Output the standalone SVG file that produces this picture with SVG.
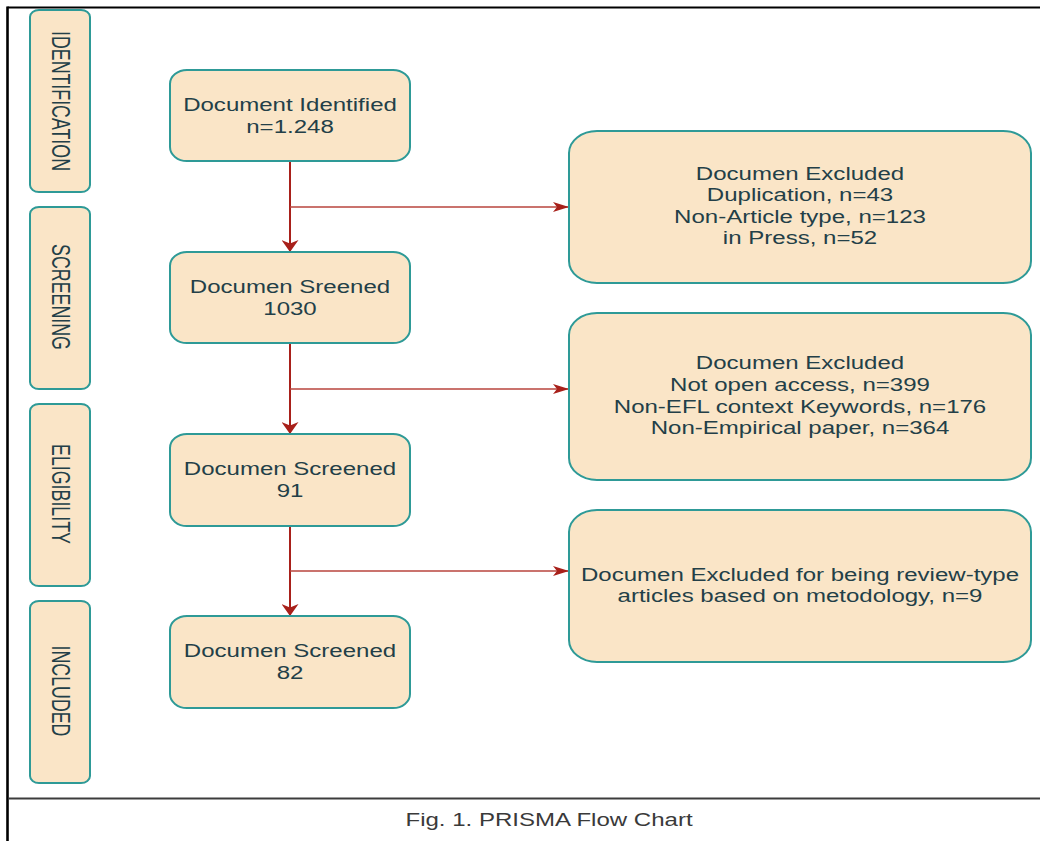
<svg xmlns="http://www.w3.org/2000/svg" width="1040" height="841" viewBox="0 0 1040 841">
<defs>
<style>
.box{fill:#FAE5C7;stroke:#2E9A97;stroke-width:2}
.t{font-family:"Liberation Sans",Arial,sans-serif;font-size:18.5px;fill:#233F48;text-anchor:middle}
.lbl{font-family:"Liberation Sans",Arial,sans-serif;font-size:17.8px;fill:#233F48;text-anchor:middle}
.v{fill:none;stroke:#A8201A;stroke-width:2}
.h{fill:none;stroke:#B9443D;stroke-width:1.6}
.cap{font-family:"Liberation Sans",Arial,sans-serif;font-size:18.5px;fill:#3A3A3A;text-anchor:middle}
</style>
<marker id="arrDown" markerUnits="userSpaceOnUse" viewBox="0 0 12 17" refX="12" refY="8.5" markerWidth="12" markerHeight="17" orient="auto">
<path d="M0,0 L12,8.5 L0,17 L3.5,8.5 Z" fill="#A8201A"/>
</marker>
<marker id="arrRight" markerUnits="userSpaceOnUse" viewBox="0 0 16 10" refX="16" refY="5" markerWidth="16" markerHeight="10" orient="auto">
<path d="M0,0 L16,5 L0,10 L4,5 Z" fill="#A8201A"/>
</marker>
</defs>
<rect x="0" y="0" width="1040" height="841" fill="#FFFFFF"/>
<g id="frame">
<line x1="7.5" y1="7.5" x2="1040" y2="7.5" stroke="#000" stroke-width="2.2"/>
<line x1="7.5" y1="6.5" x2="7.5" y2="841" stroke="#000" stroke-width="2.6"/>
<line x1="9" y1="798.5" x2="1040" y2="798.5" stroke="#3C3C3C" stroke-width="2"/>
</g>

<g id="connectors">
<path class="v" d="M290,161 V252" marker-end="url(#arrDown)"/>
<path class="h" d="M290,207 H569" marker-end="url(#arrRight)"/>
<path class="v" d="M290,343 V434" marker-end="url(#arrDown)"/>
<path class="h" d="M290,389 H569" marker-end="url(#arrRight)"/>
<path class="v" d="M290,526 V616" marker-end="url(#arrDown)"/>
<path class="h" d="M290,571 H569" marker-end="url(#arrRight)"/>
</g>

<g id="stage-identification">
<rect class="box" x="30" y="10" width="60" height="182" rx="9" ry="7"/>
<text class="lbl" transform="translate(61,101) scale(1.4,1) rotate(90)" x="0" y="6.4">IDENTIFICATION</text>
</g>
<g id="stage-screening">
<rect class="box" x="30" y="207" width="60" height="182" rx="9" ry="7"/>
<text class="lbl" transform="translate(61,297) scale(1.4,1) rotate(90)" x="0" y="6.4">SCREENING</text>
</g>
<g id="stage-eligibility">
<rect class="box" x="30" y="404" width="60" height="182" rx="9" ry="7"/>
<text class="lbl" transform="translate(61,494) scale(1.4,1) rotate(90)" x="0" y="6.4">ELIGIBILITY</text>
</g>
<g id="stage-included">
<rect class="box" x="30" y="601" width="60" height="182" rx="9" ry="7"/>
<text class="lbl" transform="translate(61,691) scale(1.4,1) rotate(90)" x="0" y="6.4">INCLUDED</text>
</g>

<g id="node-identified">
<rect class="box" x="170" y="70" width="240" height="91" rx="17" ry="14"/>
<text class="t" transform="translate(290,0) scale(1.3,1)"><tspan x="0" y="110.7">Document Identified</tspan><tspan x="0" y="132.7">n=1.248</tspan></text>
</g>
<g id="node-screened-1030">
<rect class="box" x="170" y="252" width="240" height="91" rx="17" ry="14"/>
<text class="t" transform="translate(290,0) scale(1.3,1)"><tspan x="0" y="292.7">Documen Sreened</tspan><tspan x="0" y="315">1030</tspan></text>
</g>
<g id="node-screened-91">
<rect class="box" x="170" y="434" width="240" height="92" rx="17" ry="14"/>
<text class="t" transform="translate(290,0) scale(1.3,1)"><tspan x="0" y="475">Documen Screened</tspan><tspan x="0" y="497.3">91</tspan></text>
</g>
<g id="node-screened-82">
<rect class="box" x="170" y="616" width="240" height="92" rx="17" ry="14"/>
<text class="t" transform="translate(290,0) scale(1.3,1)"><tspan x="0" y="656.7">Documen Screened</tspan><tspan x="0" y="679">82</tspan></text>
</g>

<g id="node-excluded-1">
<rect class="box" x="569" y="131" width="462" height="152" rx="28" ry="22"/>
<text class="t" transform="translate(800,0) scale(1.3,1)"><tspan x="0" y="180.3">Documen Excluded</tspan><tspan x="0" y="201.5">Duplication, n=43</tspan><tspan x="0" y="222.8">Non-Article type, n=123</tspan><tspan x="0" y="244">in Press, n=52</tspan></text>
</g>
<g id="node-excluded-2">
<rect class="box" x="569" y="313" width="462" height="167" rx="28" ry="22"/>
<text class="t" transform="translate(800,0) scale(1.3,1)"><tspan x="0" y="369.3">Documen Excluded</tspan><tspan x="0" y="390.8">Not open access, n=399</tspan><tspan x="0" y="413">Non-EFL context Keywords, n=176</tspan><tspan x="0" y="434.3">Non-Empirical paper, n=364</tspan></text>
</g>
<g id="node-excluded-3">
<rect class="box" x="569" y="510" width="462" height="152" rx="28" ry="22"/>
<text class="t" transform="translate(800,0) scale(1.3,1)"><tspan x="0" y="581">Documen Excluded for being review-type</tspan><tspan x="0" y="601.7">articles based on metodology, n=9</tspan></text>
</g>

<text id="caption" class="cap" transform="translate(549,0) scale(1.3,1)" x="0" y="826.5">Fig. 1. PRISMA Flow Chart</text>
</svg>
